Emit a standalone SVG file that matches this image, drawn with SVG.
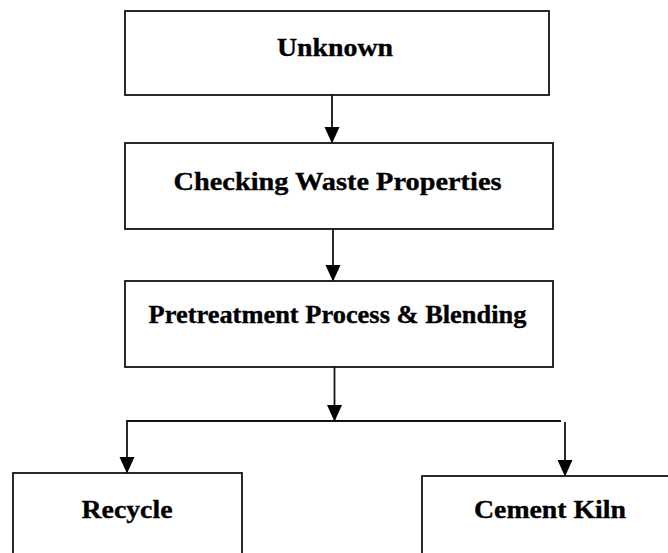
<svg xmlns="http://www.w3.org/2000/svg" width="668" height="553" viewBox="0 0 668 553">
  <style>
    .box { fill: #fff; stroke: #111; stroke-width: 1.8; }
    .wire { fill: none; stroke: #111; stroke-width: 1.8; }
    .lbl { font-family: "Liberation Serif", "Times New Roman", serif; font-weight: bold; font-size: 25px; fill: #000; stroke: #000; stroke-width: 0.35; text-anchor: middle; }
  </style>
  <defs>
    <!-- filled triangular arrowhead, tip at the end of the line -->
    <marker id="head" markerUnits="userSpaceOnUse" markerWidth="17" markerHeight="16" refX="16" refY="8" orient="auto" viewBox="0 0 17 16">
      <path d="M0,0.5 L16.5,8 L0,15.5 Z" fill="#000"/>
    </marker>
  </defs>
  <rect width="668" height="553" fill="#fff"/>

  <g id="connectors">
    <line class="wire" x1="332" y1="95" x2="332" y2="143" marker-end="url(#head)"/>
    <line class="wire" x1="333" y1="229" x2="333" y2="281" marker-end="url(#head)"/>
    <line class="wire" x1="334.5" y1="367" x2="334.5" y2="421" marker-end="url(#head)"/>
    <line class="wire" x1="127" y1="421" x2="561" y2="421"/>
    <line class="wire" x1="127" y1="420.1" x2="127" y2="473" marker-end="url(#head)"/>
    <line class="wire" x1="565" y1="422" x2="565" y2="476" marker-end="url(#head)"/>
  </g>

  <g id="unknown">
    <rect class="box" x="125" y="11" width="424" height="84"/>
    <text class="lbl" x="335" y="56" textLength="116" lengthAdjust="spacingAndGlyphs">Unknown</text>
  </g>
  <g id="checking">
    <rect class="box" x="125" y="143" width="428" height="86"/>
    <text class="lbl" x="337.5" y="189.5" textLength="328" lengthAdjust="spacingAndGlyphs">Checking Waste Properties</text>
  </g>
  <g id="pretreatment">
    <rect class="box" x="125" y="281" width="428" height="86"/>
    <text class="lbl" x="337.5" y="323" textLength="378" lengthAdjust="spacingAndGlyphs">Pretreatment Process &amp; Blending</text>
  </g>
  <g id="recycle">
    <rect class="box" x="13" y="473" width="229" height="100"/>
    <text class="lbl" x="127" y="518" textLength="91" lengthAdjust="spacingAndGlyphs">Recycle</text>
  </g>
  <g id="cement-kiln">
    <rect class="box" x="422" y="476" width="280" height="100"/>
    <text class="lbl" x="550" y="518" textLength="152" lengthAdjust="spacingAndGlyphs">Cement Kiln</text>
  </g>
</svg>
